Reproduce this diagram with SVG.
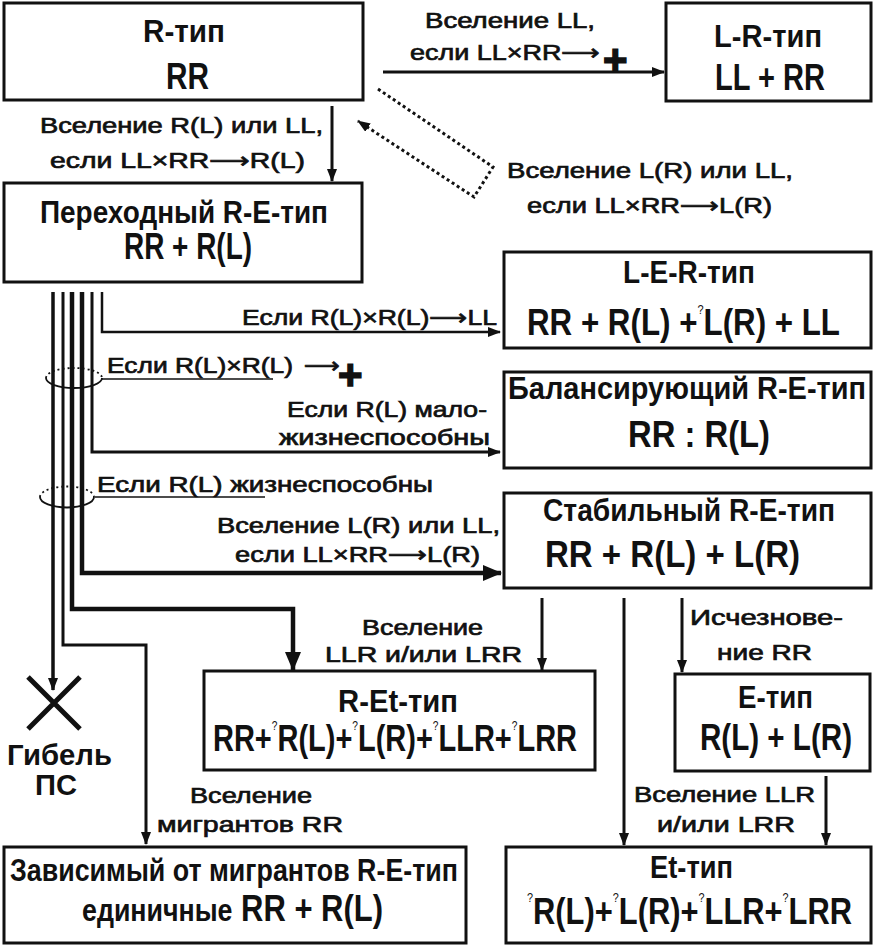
<svg xmlns="http://www.w3.org/2000/svg" width="874" height="945" viewBox="0 0 874 945">
<style>
.box{fill:#fff;stroke:#111;stroke-width:3}
.t{font-family:"Liberation Sans","DejaVu Sans",sans-serif;font-weight:bold;font-size:32px;fill:#111}
.f{font-size:37px}
.l{font-family:"Liberation Sans","DejaVu Sans",sans-serif;font-size:22px;fill:#111;stroke:#111;stroke-width:0.7}
.b{font-family:"Liberation Sans","DejaVu Sans",sans-serif;font-weight:bold;fill:#111}
.c{fill:none;stroke:#111}
.q{font-size:13px;font-weight:normal}
</style>
<defs>
<marker id="ah" markerUnits="userSpaceOnUse" markerWidth="14" markerHeight="12" refX="12" refY="5" orient="auto"><path d="M0,0 L13,5 L0,10 z" fill="#111"/></marker>
<marker id="ahb" markerUnits="userSpaceOnUse" markerWidth="20" markerHeight="18" refX="18" refY="8" orient="auto"><path d="M0,0 L19,8 L0,16 z" fill="#111"/></marker>
</defs>

<g id="connectors">
<line class="c" x1="383" y1="72" x2="664" y2="72" stroke-width="3" marker-end="url(#ah)"/>
<line class="c" x1="332" y1="106" x2="332" y2="181" stroke-width="3" marker-end="url(#ah)"/>
<path class="c" d="M378,89 L493,167 L474,197 L358,121" stroke-width="3" stroke-dasharray="3 3" marker-end="url(#ah)"/>
<path class="c" d="M102,292 V332 H500" stroke-width="2.5" marker-end="url(#ah)"/>
<path class="c" d="M92,292 V452 H500" stroke-width="3" marker-end="url(#ah)"/>
<path class="c" d="M82,292 V573 H501" stroke-width="4.5" marker-end="url(#ahb)"/>
<path class="c" d="M72,292 V609 H293 V670" stroke-width="4.5" marker-end="url(#ahb)"/>
<path class="c" d="M63,292 V645 H146 V844" stroke-width="3" marker-end="url(#ah)"/>
<path class="c" d="M53,292 V690" stroke-width="3.5" marker-end="url(#ah)"/>
<path class="c" d="M102,379 H273" stroke-width="1.5"/>
<path class="c" d="M95,497 H265" stroke-width="1.5"/>
<path class="c" d="M46,378 A28,10 0 0 1 102,378" stroke-width="1.8" stroke-dasharray="2 3"/>
<path class="c" d="M46,378 A28,10 0 0 0 102,378" stroke-width="1.8"/>
<path class="c" d="M40,497 A27,10.5 0 0 1 94,497" stroke-width="1.8" stroke-dasharray="2 3"/>
<path class="c" d="M40,497 A27,10.5 0 0 0 94,497" stroke-width="1.8"/>
<line class="c" x1="542" y1="598" x2="542" y2="670" stroke-width="3" marker-end="url(#ah)"/>
<line class="c" x1="624" y1="598" x2="624" y2="845" stroke-width="3" marker-end="url(#ah)"/>
<line class="c" x1="682" y1="598" x2="682" y2="672" stroke-width="3" marker-end="url(#ah)"/>
<line class="c" x1="826" y1="776" x2="826" y2="845" stroke-width="3" marker-end="url(#ah)"/>
<path class="c" d="M28,677 L80,729 M80,677 L28,729" stroke-width="5"/>
</g>

<g id="labels">
<text class="l" x="425" y="28" textLength="170" lengthAdjust="spacingAndGlyphs">Вселение LL,</text>
<text class="l" x="410" y="60" textLength="190" lengthAdjust="spacingAndGlyphs">если LL×RR⟶</text>
<text class="b" x="603" y="74" font-size="42" stroke="#111" stroke-width="1.5">+</text>
<text class="l" x="40" y="133" textLength="283" lengthAdjust="spacingAndGlyphs">Вселение R(L) или LL,</text>
<text class="l" x="50" y="168" textLength="255" lengthAdjust="spacingAndGlyphs">если LL×RR⟶R(L)</text>
<text class="l" x="507" y="178" textLength="286" lengthAdjust="spacingAndGlyphs">Вселение L(R) или LL,</text>
<text class="l" x="527" y="213" textLength="245" lengthAdjust="spacingAndGlyphs">если LL×RR⟶L(R)</text>
<text class="l" x="242" y="325" textLength="255" lengthAdjust="spacingAndGlyphs">Если R(L)×R(L)⟶LL</text>
<text class="l" x="107" y="373" textLength="186" lengthAdjust="spacingAndGlyphs">Если R(L)×R(L)</text>
<text class="l" x="304" y="373" textLength="36" lengthAdjust="spacingAndGlyphs">⟶</text>
<text class="b" x="338" y="389" font-size="42" stroke="#111" stroke-width="1.5">+</text>
<text class="l" x="287" y="417" textLength="200" lengthAdjust="spacingAndGlyphs">Если R(L) мало-</text>
<text class="l" x="279" y="445" textLength="211" lengthAdjust="spacingAndGlyphs">жизнеспособны</text>
<text class="l" x="97" y="492" textLength="336" lengthAdjust="spacingAndGlyphs">Если R(L) жизнеспособны</text>
<text class="l" x="217" y="533" textLength="283" lengthAdjust="spacingAndGlyphs">Вселение L(R) или LL,</text>
<text class="l" x="235" y="562" textLength="245" lengthAdjust="spacingAndGlyphs">если LL×RR⟶L(R)</text>
<text class="l" x="362" y="635" textLength="121" lengthAdjust="spacingAndGlyphs">Вселение</text>
<text class="l" x="325" y="662" textLength="197" lengthAdjust="spacingAndGlyphs">LLR и/или LRR</text>
<text class="l" x="690" y="625" textLength="153" lengthAdjust="spacingAndGlyphs">Исчезнове-</text>
<text class="l" x="717" y="660" textLength="95" lengthAdjust="spacingAndGlyphs">ние RR</text>
<text class="l" x="634" y="802" textLength="181" lengthAdjust="spacingAndGlyphs">Вселение LLR</text>
<text class="l" x="657" y="832" textLength="138" lengthAdjust="spacingAndGlyphs">и/или LRR</text>
<text class="b" x="7" y="765" font-size="29" textLength="105" lengthAdjust="spacingAndGlyphs">Гибель</text>
<text class="b" x="35" y="795" font-size="29" textLength="42" lengthAdjust="spacingAndGlyphs">ПС</text>
<text class="l" x="190" y="803" textLength="122" lengthAdjust="spacingAndGlyphs">Вселение</text>
<text class="l" x="157" y="832" textLength="186" lengthAdjust="spacingAndGlyphs">мигрантов RR</text>
</g>

<g id="n-r">
<rect class="box" x="4" y="3" width="359" height="97"/>
<text class="t" x="143" y="42" font-size="36" textLength="82" lengthAdjust="spacingAndGlyphs">R-тип</text>
<text class="t f" x="166" y="89" textLength="43" lengthAdjust="spacingAndGlyphs">RR</text>
</g>
<g id="n-lr">
<rect class="box" x="666" y="3" width="205" height="98"/>
<text class="t" x="714" y="47" font-size="34" textLength="108" lengthAdjust="spacingAndGlyphs">L-R-тип</text>
<text class="t f" x="715" y="90" textLength="110" lengthAdjust="spacingAndGlyphs">LL + RR</text>
</g>
<g id="n-trans">
<rect class="box" x="4" y="183" width="358" height="99"/>
<text class="t" x="40" y="223" font-size="34" textLength="288" lengthAdjust="spacingAndGlyphs">Переходный R-E-тип</text>
<text class="t f" x="124" y="259" textLength="128" lengthAdjust="spacingAndGlyphs">RR + R(L)</text>
</g>
<g id="n-ler">
<rect class="box" x="504" y="252" width="367" height="96"/>
<text class="t" x="623" y="283" textLength="132" lengthAdjust="spacingAndGlyphs">L-E-R-тип</text>
<text class="t f" x="527" y="335" textLength="313" lengthAdjust="spacingAndGlyphs">RR + R(L) +<tspan class="q" dy="-21">?</tspan><tspan dy="21">L(R) + LL</tspan></text>
</g>
<g id="n-bal">
<rect class="box" x="504" y="372" width="367" height="96"/>
<text class="t" x="508" y="399" textLength="358" lengthAdjust="spacingAndGlyphs">Балансирующий R-E-тип</text>
<text class="t f" x="628" y="447" textLength="142" lengthAdjust="spacingAndGlyphs">RR : R(L)</text>
</g>
<g id="n-stab">
<rect class="box" x="504" y="493" width="367" height="95"/>
<text class="t" x="543" y="521" textLength="292" lengthAdjust="spacingAndGlyphs">Стабильный R-E-тип</text>
<text class="t f" x="545" y="567" textLength="255" lengthAdjust="spacingAndGlyphs">RR + R(L) + L(R)</text>
</g>
<g id="n-ret">
<rect class="box" x="204" y="671" width="391" height="99"/>
<text class="t" x="338" y="712" textLength="120" lengthAdjust="spacingAndGlyphs">R-Et-тип</text>
<text class="t f" x="213" y="751" textLength="364" lengthAdjust="spacingAndGlyphs">RR+<tspan class="q" dy="-21">?</tspan><tspan dy="21">R(L)+</tspan><tspan class="q" dy="-21">?</tspan><tspan dy="21">L(R)+</tspan><tspan class="q" dy="-21">?</tspan><tspan dy="21">LLR+</tspan><tspan class="q" dy="-21">?</tspan><tspan dy="21">LRR</tspan></text>
</g>
<g id="n-e">
<rect class="box" x="675" y="674" width="195" height="97"/>
<text class="t" x="738" y="708" textLength="75" lengthAdjust="spacingAndGlyphs">E-тип</text>
<text class="t f" x="700" y="750" textLength="152" lengthAdjust="spacingAndGlyphs">R(L) + L(R)</text>
</g>
<g id="n-et">
<rect class="box" x="506" y="847" width="365" height="96"/>
<text class="t" x="650" y="878" textLength="83" lengthAdjust="spacingAndGlyphs">Et-тип</text>
<text class="t f" x="527" y="924" font-size="38" textLength="325" lengthAdjust="spacingAndGlyphs"><tspan class="q" dy="-22">?</tspan><tspan dy="22">R(L)+</tspan><tspan class="q" dy="-22">?</tspan><tspan dy="22">L(R)+</tspan><tspan class="q" dy="-22">?</tspan><tspan dy="22">LLR+</tspan><tspan class="q" dy="-22">?</tspan><tspan dy="22">LRR</tspan></text>
</g>
<g id="n-dep">
<rect class="box" x="4" y="847" width="462" height="96"/>
<text class="t" x="10" y="881" textLength="448" lengthAdjust="spacingAndGlyphs">Зависимый от мигрантов R-E-тип</text>
<text class="t f" x="82" y="921" textLength="301" lengthAdjust="spacingAndGlyphs"><tspan font-size="32">единичные</tspan> RR + R(L)</text>
</g>
</svg>
